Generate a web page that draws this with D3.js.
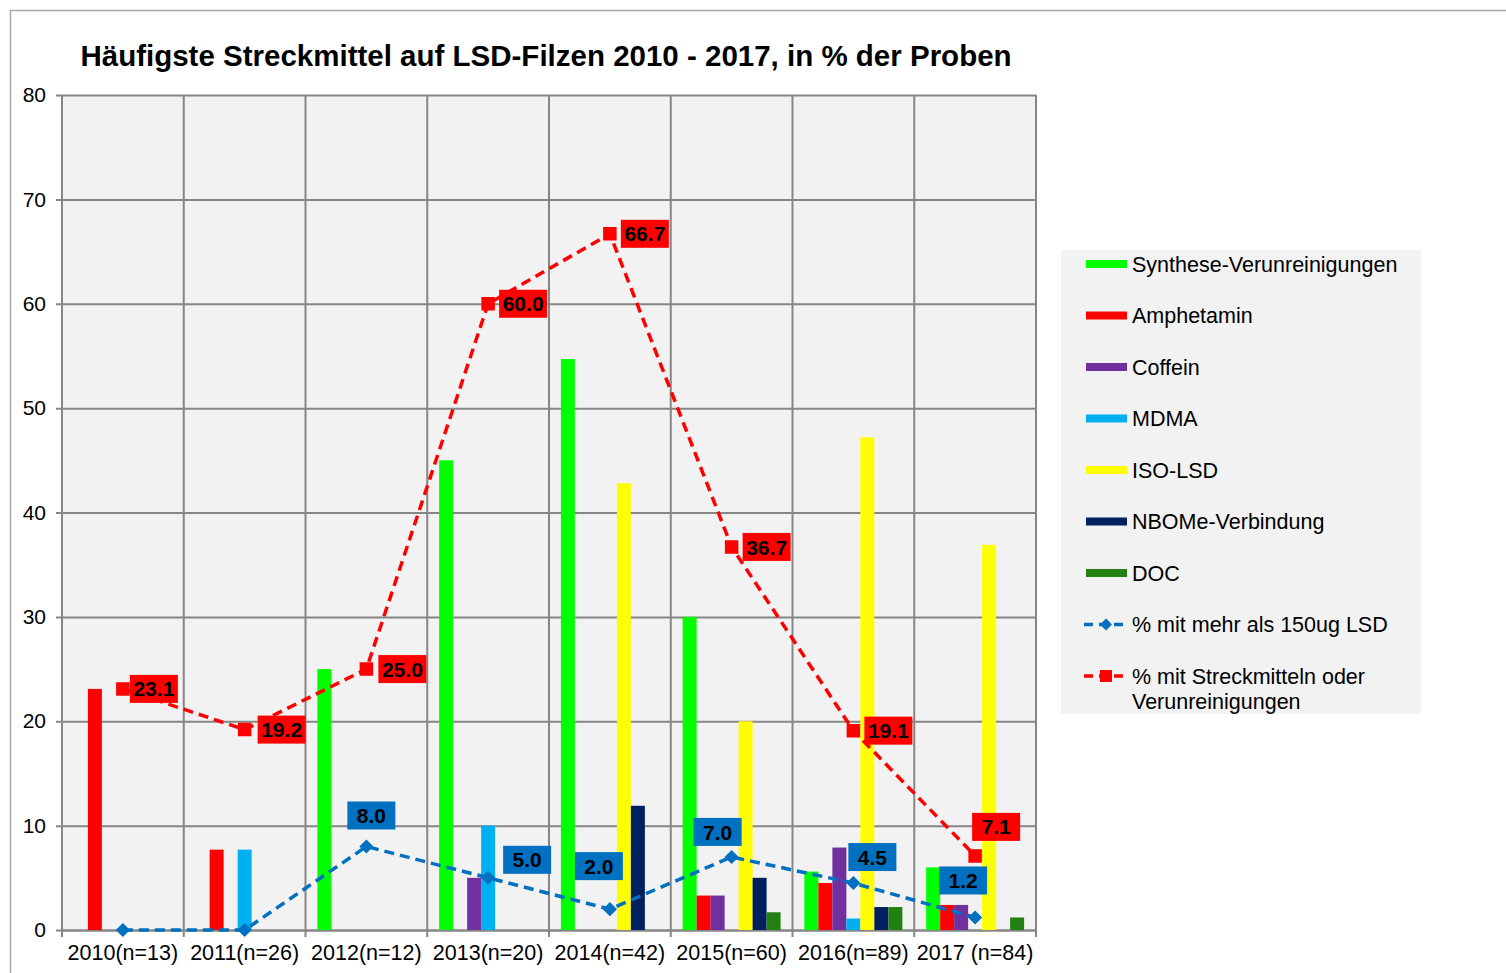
<!DOCTYPE html>
<html>
<head>
<meta charset="utf-8">
<script src="https://cdn.jsdelivr.net/npm/d3@7"></script>
<style>
  body { margin: 0; background: #fff; }
  svg { display: block; font-family: "Liberation Sans", Arial, sans-serif; }
</style>
</head>
<body>
<div id="chart"></div>
<script>
// Kategorien und Werte
const categories = ["2010(n=13)", "2011(n=26)", "2012(n=12)", "2013(n=20)", "2014(n=42)", "2015(n=60)", "2016(n=89)", "2017 (n=84)"];
const seriesNames = ["Synthese-Verunreinigungen", "Amphetamin", "Coffein", "MDMA", "ISO-LSD", "NBOMe-Verbindung", "DOC"];
const synthese = [0, 0, 25.0, 45.0, 54.7, 30.0, 5.6, 6.0];
const amphetamin = [23.1, 7.7, 0, 0, 0, 3.3, 4.5, 2.4];
const coffein = [0, 0, 0, 5.0, 0, 3.3, 7.9, 2.4];
const mdma = [0, 7.7, 0, 10.0, 0, 0, 1.1, 0];
const isoLsd = [0, 0, 0, 0, 42.8, 20.0, 47.2, 36.9];
const nbome = [0, 0, 0, 0, 11.9, 5.0, 2.2, 0];
const doc = [0, 0, 0, 0, 0, 1.7, 2.2, 1.2];
const mehr150 = [0, 0, 8.0, 5.0, 2.0, 7.0, 4.5, 1.2];
const streckmittel = [23.1, 19.2, 25.0, 60.0, 66.7, 36.7, 19.1, 7.1];
const yTicks = [0, 10, 20, 30, 40, 50, 60, 70, 80];

const barSeries = [synthese, amphetamin, coffein, mdma, isoLsd, nbome, doc];
const barColors = ["#00ff00", "#ff0000", "#7030a0", "#00b0f0", "#ffff00", "#002060", "#238012"];

// Versatz der Datenbeschriftungen (Layout)
const redLabelOffset = [[31, 0], [37, 0], [36, 0], [35, 0], [35, 0], [35, 0], [35, 0], [21, -29]];
const blueLabelOffset = [null, null, [5, -31], [39, -18], [-11, -43], [-14, -25], [19, -26], [-12, -37]];

const W = 1506, H = 973;
const plot = { left: 62, right: 1036, top: 95, bottom: 930 };
const FONT = "Liberation Sans, Arial, sans-serif";

const svg = d3.select("#chart").append("svg").attr("width", W).attr("height", H);

// Rahmen
svg.append("path").attr("d", `M10.5,${H} V10.5 H${W}`).attr("fill", "none").attr("stroke", "#a6a6a6").attr("stroke-width", 1.5);

svg.append("text")
  .attr("x", 546).attr("y", 66)
  .attr("text-anchor", "middle")
  .attr("font-size", 29.5).attr("font-weight", "bold")
  .text("Häufigste Streckmittel auf LSD-Filzen 2010 - 2017, in % der Proben");

const x = d3.scaleBand().domain(categories).range([plot.left, plot.right]).paddingInner(0).paddingOuter(0);
const xs = d3.scaleBand().domain(d3.range(barSeries.length)).range([0, x.bandwidth()]).paddingInner(0).paddingOuter(0.85);
const y = d3.scaleLinear().domain([0, 80]).range([plot.bottom, plot.top]);

svg.append("rect")
  .attr("x", plot.left).attr("y", plot.top)
  .attr("width", plot.right - plot.left).attr("height", plot.bottom - plot.top)
  .attr("fill", "#f2f2f2");

// Horizontale Gitterlinien
const gy = svg.append("g")
  .attr("transform", `translate(${plot.left},0)`)
  .call(d3.axisLeft(y).tickValues(yTicks).tickSize(-(plot.right - plot.left)).tickSizeOuter(0).tickPadding(16));
gy.select(".domain").remove();
gy.selectAll(".tick line").attr("stroke", "#868686").attr("stroke-width", 2).attr("x1", -6);
gy.selectAll(".tick text").attr("font-size", 21).attr("fill", "#000").attr("font-family", FONT);

// Vertikale Gitterlinien an Kategoriegrenzen
const bounds = categories.map(c => x(c)).concat([plot.right]);
svg.append("g").selectAll("line").data(bounds).join("line")
  .attr("x1", d => d).attr("x2", d => d)
  .attr("y1", plot.top).attr("y2", plot.bottom + 7)
  .attr("stroke", "#868686").attr("stroke-width", 2);

// X-Achse
const gx = svg.append("g")
  .attr("transform", `translate(0,${plot.bottom})`)
  .call(d3.axisBottom(x).tickSize(0).tickPadding(15));
gx.select(".domain").attr("stroke", "#868686").attr("stroke-width", 2);
gx.selectAll(".tick text").attr("font-size", 21.5).attr("fill", "#000").attr("font-family", FONT);

// Balken
barSeries.forEach((vals, si) => {
  svg.append("g").selectAll("rect")
    .data(vals.map((v, i) => ({ cat: categories[i], v })).filter(d => d.v > 0))
    .join("rect")
    .attr("x", d => x(d.cat) + xs(si))
    .attr("y", d => y(d.v))
    .attr("width", xs.bandwidth())
    .attr("height", d => y(0) - y(d.v))
    .attr("fill", barColors[si]);
});

// Linien
const cx = c => x(c) + x.bandwidth() / 2;
const line = d3.line().x(d => cx(d.cat)).y(d => y(d.v));

function drawLine(vals, color, marker, offsets, fill) {
  const pts = vals.map((v, i) => ({ cat: categories[i], v, i }));
  svg.append("path").datum(pts)
    .attr("d", line)
    .attr("fill", "none").attr("stroke", color)
    .attr("stroke-width", 3.5).attr("stroke-dasharray", "10,6");
  svg.append("g").selectAll("path").data(pts).join("path")
    .attr("transform", d => `translate(${cx(d.cat)},${y(d.v)})`)
    .attr("d", marker)
    .attr("fill", color).attr("stroke", color).attr("stroke-width", 1.5);
  const lab = svg.append("g").selectAll("g").data(pts.filter(d => offsets[d.i])).join("g")
    .attr("transform", d => `translate(${cx(d.cat) + offsets[d.i][0]},${y(d.v) + offsets[d.i][1]})`);
  lab.append("rect").attr("x", -24).attr("y", -14).attr("width", 48).attr("height", 28).attr("fill", fill);
  lab.append("text")
    .attr("text-anchor", "middle").attr("dy", "0.36em")
    .attr("font-size", 21).attr("font-weight", "bold").attr("fill", "#000")
    .text(d => d.v.toFixed(1));
}

const diamond = "M0,-6 L6,0 L0,6 L-6,0 Z";
const xMark = "M-6,-6 L6,-6 L6,6 L-6,6 Z";
drawLine(mehr150, "#0070c0", diamond, blueLabelOffset, "#0070c0");
drawLine(streckmittel, "#ff0000", xMark, redLabelOffset, "#ff0000");

// Legende
const lg = svg.append("g");
lg.append("rect").attr("x", 1061).attr("y", 250).attr("width", 360).attr("height", 464).attr("fill", "#f2f2f2");
const legendItems = seriesNames.map((n, i) => ({ name: n, color: barColors[i], type: "bar" }))
  .concat([
    { name: "% mit mehr als 150ug LSD", color: "#0070c0", type: "line", marker: diamond },
    { name: ["% mit Streckmitteln oder", "Verunreinigungen"], color: "#ff0000", type: "line", marker: xMark }
  ]);
const li = lg.selectAll("g.item").data(legendItems).join("g")
  .attr("transform", (d, i) => `translate(1086,${264 + i * 51.5})`);
li.filter(d => d.type === "bar").append("rect")
  .attr("x", 0).attr("y", -4).attr("width", 41).attr("height", 8).attr("fill", d => d.color);
li.filter(d => d.type === "line").append("line")
  .attr("x1", -2).attr("x2", 42).attr("stroke", d => d.color).attr("stroke-width", 3.5).attr("stroke-dasharray", "9,6");
li.filter(d => d.type === "line").append("path")
  .attr("transform", "translate(20,0)")
  .attr("d", d => d.marker).attr("fill", d => d.color);
li.append("text")
  .attr("x", 46).attr("font-size", 21.5).attr("fill", "#000")
  .selectAll("tspan").data(d => Array.isArray(d.name) ? d.name : [d.name]).join("tspan")
  .attr("x", 46).attr("dy", (d, i) => i === 0 ? "0.36em" : "1.16em")
  .text(d => d);
</script>
</body>
</html>
